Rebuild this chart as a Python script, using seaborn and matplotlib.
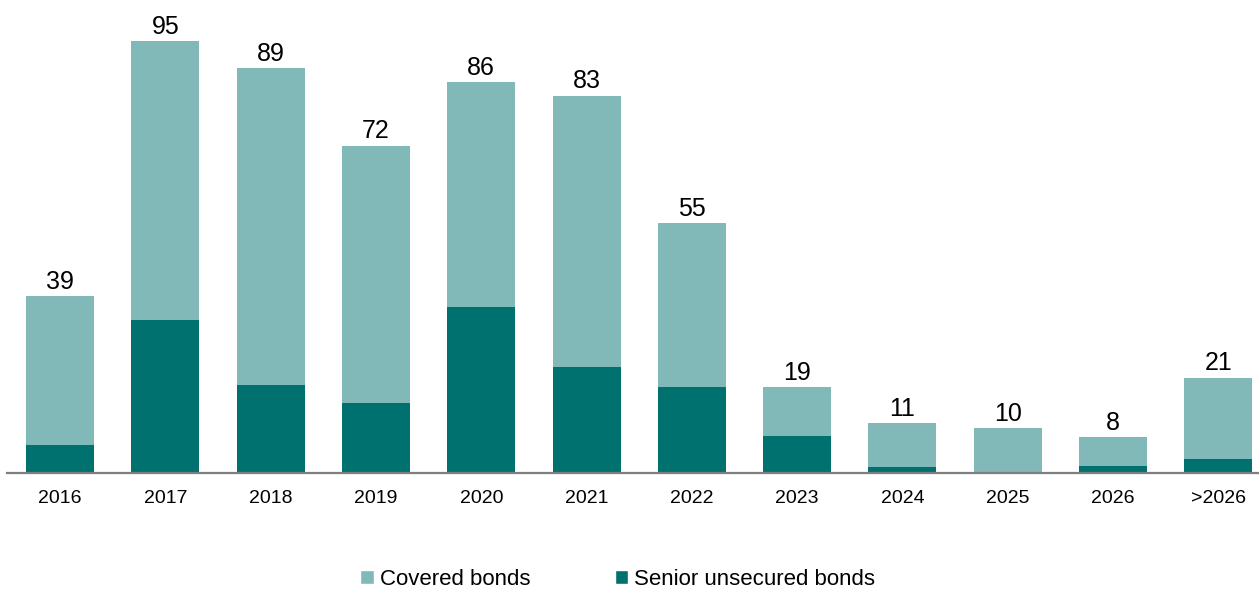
import matplotlib
matplotlib.use("Agg")
import matplotlib.pyplot as plt
import seaborn as sns
import pandas as pd
from matplotlib.patches import Patch

categories = ["2016", "2017", "2018", "2019", "2020", "2021", "2022", "2023", "2024", "2025", "2026", ">2026"]
senior = [6.2, 33.7, 19.3, 15.5, 36.6, 23.4, 18.9, 8.3, 1.4, 0.2, 1.7, 3.2]
totals = [39, 95, 89, 72, 86, 83, 55, 19, 11, 10, 8, 21]
covered = [t - s for t, s in zip(totals, senior)]

COVERED_COLOR = "#81B9B9"
SENIOR_COLOR = "#00716F"

sns.set_theme(style="white")
plt.rcParams["font.family"] = ["Liberation Sans", "DejaVu Sans"]

df = pd.DataFrame({"year": categories, "covered": covered, "senior": senior})
df["total"] = df["covered"] + df["senior"]

fig = plt.figure(figsize=(12.59, 5.89), dpi=100)
ax = fig.add_axes([7.4 / 1259, 0.1964, 1 - 7.4 / 1259, 0.969 - 0.1964])

sns.barplot(data=df, x="year", y="total", color=COVERED_COLOR, width=0.645,
            saturation=1, ax=ax, linewidth=0)
sns.barplot(data=df, x="year", y="senior", color=SENIOR_COLOR, width=0.645,
            saturation=1, ax=ax, linewidth=0)

for i, t in enumerate(totals):
    ax.text(i, df["total"][i] + 0.5, f"{t}", ha="center", va="bottom",
            fontsize=18, color="#000000")

ax.set_xlim(-0.5, 11.386)
ax.set_ylim(0, 100)
ax.set_xlabel("")
ax.set_ylabel("")
ax.set_yticks([])
ax.tick_params(axis="x", length=0, labelsize=14, pad=12, colors="#000000")
for s in ["left", "right", "top"]:
    ax.spines[s].set_visible(False)
ax.spines["bottom"].set_color("#7F7F7F")
ax.spines["bottom"].set_linewidth(1.6)

handles = [Patch(facecolor=COVERED_COLOR, label="Covered bonds"),
           Patch(facecolor=SENIOR_COLOR, label="Senior unsecured bonds")]
fig.legend(handles=handles, loc="center", bbox_to_anchor=(0.4905, 0.016), ncol=2,
           frameon=False, fontsize=16, handlelength=0.62, handleheight=0.62,
           handletextpad=0.25, columnspacing=3.8, labelcolor="#000000")

fig.savefig("out.png", dpi=100)
